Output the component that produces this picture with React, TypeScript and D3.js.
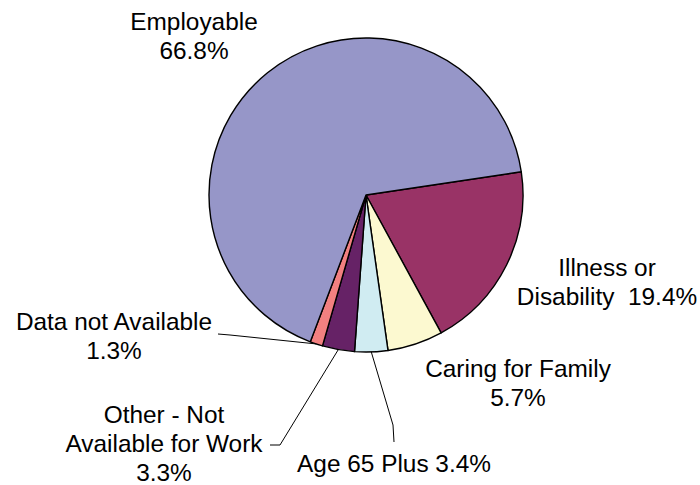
import {useEffect, useRef} from "react";
import * as d3 from "d3";

// slice order runs clockwise from the Employable / Illness boundary
const categories = ["Illness or Disability", "Caring for Family", "Age 65 Plus", "Other - Not Available for Work", "Data not Available", "Employable"];
const shares = [19.4, 5.7, 3.4, 3.3, 1.3, 66.8];
const labelLines = [
    ["Illness or", "Disability  19.4%"],
    ["Caring for Family", "5.7%"],
    ["Age 65 Plus 3.4%"],
    ["Other - Not", "Available for Work", "3.3%"],
    ["Data not Available", "1.3%"],
    ["Employable", "66.8%"],
];
const colors = ["#993366", "#FCF9D0", "#D0ECF2", "#662266", "#F28080", "#9696C8"];

const width = 700;
const height = 485;
const cx = 366;
const cy = 195;
const radius = 157;
const fontSize = 24.4;
const lineHeight = 29;

// label anchor (center x, first baseline) and leader line elbows
const labelLayout: {x: number; y: number; leader?: [number, number][]}[] = [
    {x: 607, y: 276},
    {x: 518, y: 377},
    {x: 394, y: 472, leader: [[394, 442], [393, 425]]},
    {x: 164, y: 423, leader: [[270, 445], [280, 445]]},
    {x: 114, y: 330, leader: [[218, 334], [230, 335]]},
    {x: 194, y: 30},
];

type Slice = {name: string; value: number; index: number};

const App = () => {
    const svgRef = useRef<SVGSVGElement | null>(null);

    useEffect(() => {
        const svg = d3.select(svgRef.current);
        svg.selectAll("*").remove();

        const data: Slice[] = categories.map((name, i) => ({name, value: shares[i], index: i}));
        const start = (81.5 * Math.PI) / 180;
        const pie = d3.pie<Slice>()
            .sort(null)
            .value(d => d.value)
            .startAngle(start)
            .endAngle(start + 2 * Math.PI);
        const arcs = pie(data);

        const arc = d3.arc<d3.PieArcDatum<Slice>>()
            .innerRadius(0)
            .outerRadius(radius);

        const g = svg.append("g").attr("transform", `translate(${cx},${cy})`);

        g.selectAll("path.slice")
            .data(arcs)
            .enter()
            .append("path")
            .attr("class", "slice")
            .attr("d", d => arc(d))
            .attr("fill", d => colors[d.data.index])
            .attr("stroke", "black")
            .attr("stroke-width", 1.4)
            .attr("stroke-linejoin", "round");

        // leader lines from slice edge to label
        arcs.forEach(d => {
            const lay = labelLayout[d.data.index];
            if (!lay.leader) return;
            const mid = (d.startAngle + d.endAngle) / 2;
            const px = cx + radius * Math.sin(mid);
            const py = cy - radius * Math.cos(mid);
            const pts: [number, number][] = [lay.leader[0], lay.leader[1], [px, py]];
            svg.append("path")
                .attr("d", d3.line()(pts))
                .attr("fill", "none")
                .attr("stroke", "black")
                .attr("stroke-width", 1);
        });

        labelLines.forEach((lines, i) => {
            const lay = labelLayout[i];
            const t = svg.append("text")
                .attr("text-anchor", "middle")
                .attr("font-family", "'Liberation Sans', Arial, sans-serif")
                .attr("font-size", fontSize)
                .attr("fill", "black");
            lines.forEach((line, j) => {
                t.append("tspan")
                    .attr("x", lay.x)
                    .attr("y", lay.y + j * lineHeight)
                    .attr("xml:space", "preserve")
                    .style("white-space", "pre")
                    .text(line);
            });
        });
    }, []);

    return (
        <svg
            ref={svgRef}
            width={width}
            height={height}
            style={{position: "absolute", left: 0, top: 0, background: "white"}}
        />
    );
};

export default App;
